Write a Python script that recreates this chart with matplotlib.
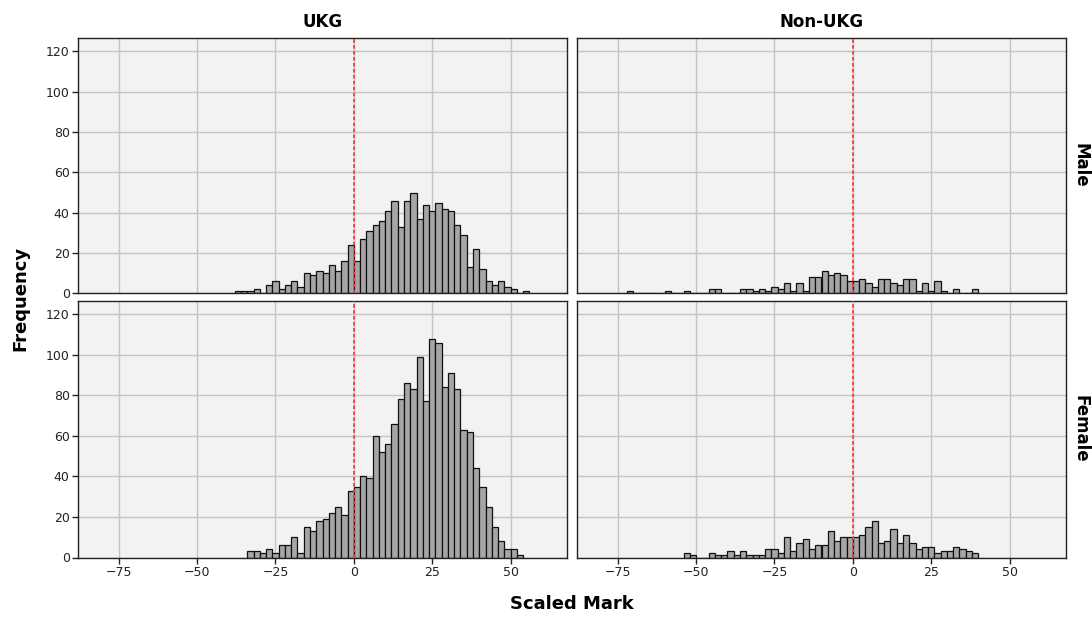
import numpy as np
import matplotlib
matplotlib.use('Agg')
import matplotlib.pyplot as plt


### Histogram counts (bin width 2, left edges)
ukg_male_start = -38
ukg_male = [1, 1, 1, 2, 0, 4, 6, 2, 4, 6,
            3, 10, 9, 11, 10, 14, 11, 16, 24, 16,
            27, 31, 34, 36, 41, 46, 33, 46, 50, 37,
            44, 41, 45, 42, 41, 34, 29, 13, 22, 12,
            6, 4, 6, 3, 2, 0, 1]

ukg_female_start = -34
ukg_female = [3, 3, 2, 4, 2, 6, 6, 10, 2, 15,
              13, 18, 19, 22, 25, 21, 33, 35, 40, 39,
              60, 52, 56, 66, 78, 86, 83, 99, 77, 108,
              106, 84, 91, 83, 63, 62, 44, 35, 25, 15,
              8, 4, 4, 1]

non_male_start = -72
non_male = [1, 0, 0, 0, 0, 0,
            1, 0, 0,
            1, 0, 0, 0,
            2, 2,
            0, 0, 0,
            2, 2, 1, 2, 1, 3, 2, 5, 1, 5,
            1, 8, 8, 11, 9, 10, 9, 6, 6, 7,
            5, 3, 7, 7, 5, 4, 7, 7, 1, 5,
            1, 6, 1, 0, 2, 0, 0, 2]

non_female_start = -54
non_female = [2, 1, 0, 0, 2, 1, 1, 3, 1, 3,
              1, 1, 1, 4, 4, 2, 10, 3, 7, 9,
              4, 6, 6, 13, 8, 10, 10, 10, 11, 15,
              18, 7, 8, 14, 7, 11, 7, 4, 5, 5,
              2, 3, 3, 5, 4, 3, 2]

bin_width = 2
col_titles = ['UKG', 'Non-UKG']
row_titles = ['Male', 'Female']
x_ticks = [-75, -50, -25, 0, 25, 50]
y_ticks = [0, 20, 40, 60, 80, 100, 120]

panels = [[(ukg_male_start, ukg_male), (non_male_start, non_male)],
          [(ukg_female_start, ukg_female), (non_female_start, non_female)]]


### Figure layout (pixel based)
W, H = 1092, 617
fig = plt.figure(figsize=(W / 100, H / 100), dpi=100)
fig.patch.set_facecolor('white')

col_x = [(78, 567), (577, 1066)]
row_y = [(38, 293.5), (301, 557.5)]

for r in range(2):
    for c in range(2):
        x0, x1 = col_x[c]
        y0, y1 = row_y[r]
        ax = fig.add_axes([x0 / W, 1 - y1 / H, (x1 - x0) / W, (y1 - y0) / H])
        ax.set_facecolor('#f2f2f2')
        start, counts = panels[r][c]
        lefts = start + bin_width * np.arange(len(counts))
        ax.bar(lefts, counts, width=bin_width, align='edge', color='#a6a6a6',
               edgecolor='#111111', linewidth=0.9, zorder=2)
        ax.axvline(0, color='#ff3b3b', linestyle=(0, (2, 1.3)), linewidth=1.3, zorder=3)
        ax.set_xlim(-88, 68)
        ax.set_ylim(0, 126.5)
        ax.set_xticks(x_ticks)
        ax.set_yticks(y_ticks)
        ax.grid(True, color='#c4c4c4', linewidth=1.0, zorder=0)
        ax.set_axisbelow(True)
        for sp in ax.spines.values():
            sp.set_color('#222222')
            sp.set_linewidth(1.0)
        ax.tick_params(direction='out', length=4, width=1, color='#222222',
                       labelsize=9, labelcolor='#222222', pad=2)
        if c == 1:
            ax.tick_params(axis='y', left=False, labelleft=False)
        if r == 0:
            ax.tick_params(axis='x', bottom=False, labelbottom=False)
            ax.set_title(col_titles[c], fontsize=12, fontweight='bold', pad=8)
        if c == 1:
            ax.text(1.012, 0.5, row_titles[r], transform=ax.transAxes, rotation=-90,
                    ha='left', va='center', fontsize=12, fontweight='bold')

fig.text(20 / W, 1 - 298 / H, 'Frequency', rotation=90, ha='center', va='center',
         fontsize=13, fontweight='bold')
fig.text(572 / W, 1 - 604 / H, 'Scaled Mark', ha='center', va='center',
         fontsize=13, fontweight='bold')

plt.savefig('out.png', dpi=100)
